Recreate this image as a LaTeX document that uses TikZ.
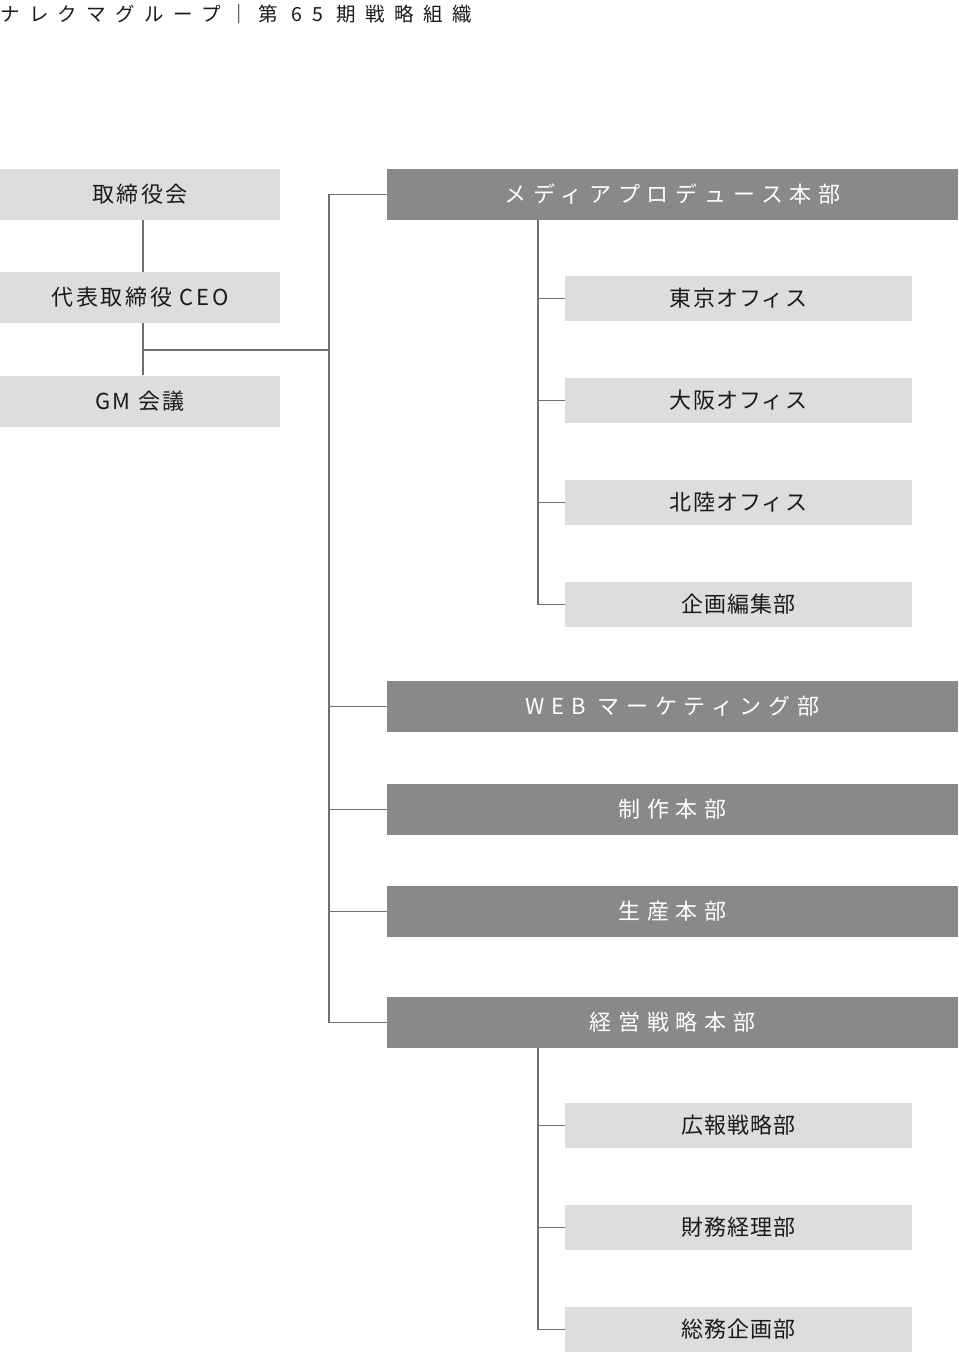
\documentclass[tikz,border=0pt]{standalone}
\usepackage{fontspec}
\newfontfamily\jptitle[LetterSpace=48]{Noto Sans CJK JP}
\newfontfamily\jpdark[LetterSpace=31]{Noto Sans CJK JP}
\newfontfamily\jplight[LetterSpace=5]{Noto Sans CJK JP}
\newfontfamily\jpleft[LetterSpace=12]{Noto Sans CJK JP}
\definecolor{lightbox}{HTML}{DCDDDD}
\definecolor{darkbox}{HTML}{898989}
\definecolor{linec}{HTML}{707070}
\definecolor{txt}{HTML}{1A1A1A}
\tikzset{
  leftbox/.style={fill=lightbox, minimum width=280, minimum height=51, inner sep=0, text=txt, font=\jpleft\fontsize{22}{26}\selectfont},
  darkb/.style={fill=darkbox, minimum width=571, minimum height=51, inner sep=0, text=white, font=\jpdark\fontsize{22}{26}\selectfont},
  subbox/.style={fill=lightbox, minimum width=347, minimum height=45, inner sep=0, text=txt, font=\jplight\fontsize{22}{26}\selectfont},
  conn/.style={draw=linec, line width=1.3}
}
\begin{document}
\begin{tikzpicture}[x=1pt,y=-1pt]
\useasboundingbox (0,0) rectangle (958,1354);
\node[anchor=west, inner sep=0, text=txt, font=\jptitle\fontsize{19.5}{22}\selectfont] (title) at (0,14) {ナレクマグループ｜第 65 期戦略組織};
% left column
\node[leftbox] (board) at (140,194.5) {取締役会};
\node[leftbox] (ceo) at (140,297.5) {代表取締役 CEO};
\node[leftbox] (gm) at (140,401) {GM 会議};
% dark boxes
\node[darkb] (media) at (672.5,194.5) {メディアプロデュース本部};
\node[darkb] (web) at (672.5,706.5) {WEB マーケティング部};
\node[darkb] (seisaku) at (672.5,809.5) {制作本部};
\node[darkb] (seisan) at (672.5,911.5) {生産本部};
\node[darkb] (keiei) at (672.5,1022.5) {経営戦略本部};
% sub boxes
\node[subbox] (tokyo) at (738.5,298.5) {東京オフィス};
\node[subbox] (osaka) at (738.5,400.5) {大阪オフィス};
\node[subbox] (hokuriku) at (738.5,502.5) {北陸オフィス};
\node[subbox] (kikaku) at (738.5,604.5) {企画編集部};
\node[subbox] (koho) at (738.5,1125.5) {広報戦略部};
\node[subbox] (zaimu) at (738.5,1227.5) {財務経理部};
\node[subbox] (somu) at (738.5,1329.5) {総務企画部};
% connectors
\coordinate (j1) at (143,350);
\coordinate (tTop) at (329,194.5);
\coordinate (s1) at (538,220);
\coordinate (s2) at (538,1048);
\draw[conn] (board.south -| j1) -- (ceo.north -| j1);
\draw[conn] (ceo.south -| j1) -- (gm.north -| j1);
\draw[conn] (j1) -- (j1 -| tTop);
\draw[conn] (media.west) -- (tTop) |- (keiei.west);
\draw[conn] (tTop |- web.west) -- (web.west);
\draw[conn] (tTop |- seisaku.west) -- (seisaku.west);
\draw[conn] (tTop |- seisan.west) -- (seisan.west);
\draw[conn] (s1) |- (kikaku.west);
\draw[conn] (s1 |- tokyo.west) -- (tokyo.west);
\draw[conn] (s1 |- osaka.west) -- (osaka.west);
\draw[conn] (s1 |- hokuriku.west) -- (hokuriku.west);
\draw[conn] (s2) |- (somu.west);
\draw[conn] (s2 |- koho.west) -- (koho.west);
\draw[conn] (s2 |- zaimu.west) -- (zaimu.west);
\end{tikzpicture}
\end{document}
